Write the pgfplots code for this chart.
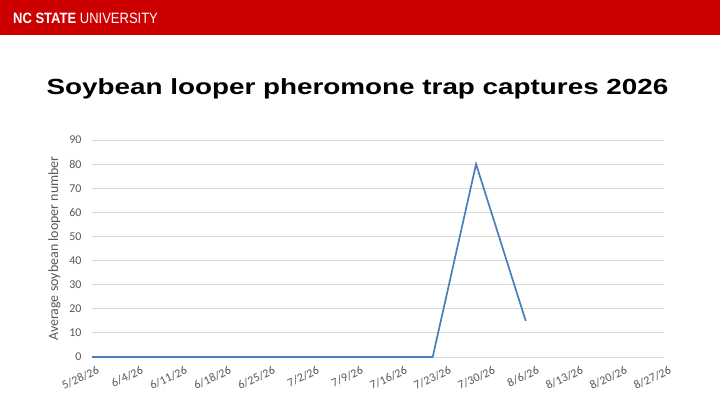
\documentclass[border=0pt]{standalone}
\usepackage{pgfplots}
\pgfplotsset{compat=1.18}
\usepackage{fontspec}
\setmainfont{Carlito}
\newfontfamily\arialfont{Liberation Sans}
\definecolor{ncred}{HTML}{CC0000}
\definecolor{xlblue}{HTML}{4A7EBB}
\definecolor{xltext}{HTML}{595959}
\definecolor{xlgrid}{HTML}{D9D9D9}

\begin{document}
\begin{tikzpicture}[x=1bp,y=1bp]
  \fill[white] (0,0) rectangle (720,405);
  \fill[ncred] (0,370) rectangle (720,405);
  \node[anchor=base west,inner sep=0,text=white] at (13,382)
    {\scalebox{0.87}[1]{\fontsize{15}{15}\selectfont\arialfont\textbf{NC STATE} UNIVERSITY}};
  \node[anchor=base,inner sep=0] at (357.5,311)
    {\scalebox{1.27}[1]{\fontsize{22}{22}\selectfont\arialfont\textbf{Soybean looper pheromone trap captures 2026}}};

  \begin{axis}[
    at={(92bp,48bp)}, anchor=south west,
    scale only axis, width=572bp, height=217bp,
    xmin=0, xmax=91, ymin=0, ymax=90,
    ytick={0,10,...,90},
    xtick={0,7,...,91},
    xticklabels={5/28/26,6/4/26,6/11/26,6/18/26,6/25/26,7/2/26,7/9/26,7/16/26,7/23/26,7/30/26,8/6/26,8/13/26,8/20/26,8/27/26},
    axis line style={draw=none},
    tick style={draw=none},
    ymajorgrids, major grid style={xlgrid, line width=0.8pt},
    /pgf/number format/assume math mode=true,
    tick label style={font=\fontsize{12}{12}\selectfont, text=xltext},
    yticklabel style={xshift=-7bp},
    xticklabel style={rotate=25, anchor=north east, xshift=4bp, yshift=-6bp},
    ylabel={Average soybean looper number},
    ylabel style={font=\fontsize{14}{14}\selectfont, text=xltext, yshift=2bp},
    clip=false,
  ]
    \addplot[xlblue, line width=1.7pt] coordinates {
      (0,0) (7,0) (14,0) (21,0) (28,0) (35,0) (42,0) (49,0) (54.2,0) (61.1,80) (69,15)
    };
  \end{axis}
\end{tikzpicture}
\end{document}
